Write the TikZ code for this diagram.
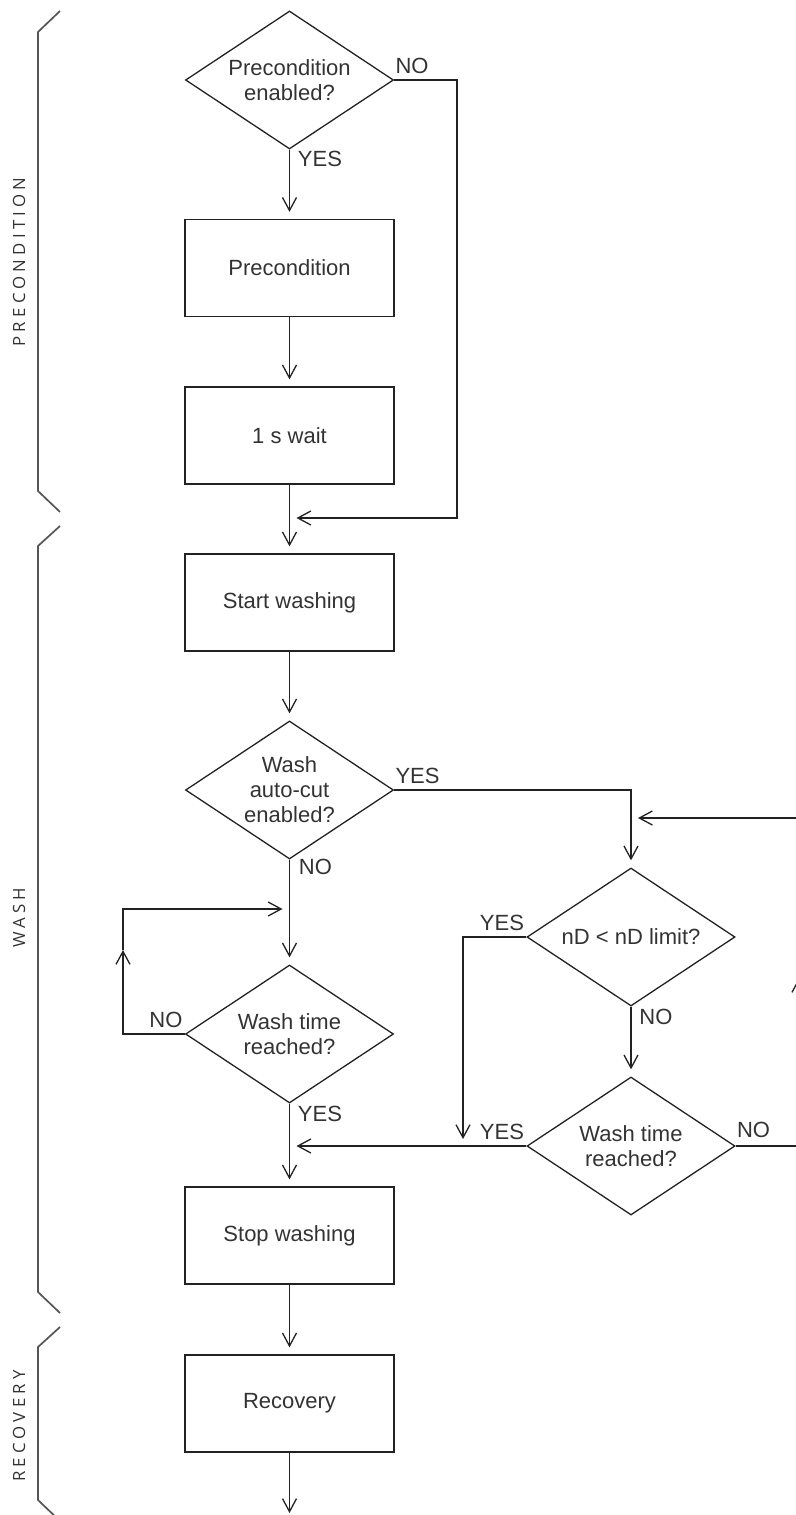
\documentclass[tikz,border=0pt]{standalone}
\usepackage{fontspec}
\setmainfont{Liberation Sans}
\newfontfamily\sidefont{Open Sans}[LetterSpace=25]
\usetikzlibrary{arrows.meta,shapes.geometric,positioning}

\definecolor{linegray}{HTML}{222222}
\definecolor{textgray}{HTML}{333333}
\definecolor{bracegray}{HTML}{555555}

\tikzset{
  stepbox/.style={draw=linegray,line width=.65pt,rectangle,minimum width=104.5pt,
    minimum height=48.5pt,inner sep=0pt,text=textgray,font=\fontsize{11}{12.5}\selectfont},
  question/.style={draw=linegray,line width=.65pt,diamond,shape aspect=1.5,
    minimum width=104pt,minimum height=69pt,inner sep=0pt,align=center,
    text=textgray,font=\fontsize{11}{12.5}\selectfont},
  flow/.style={draw=linegray,line width=.65pt,-{Straight Barb[length=6.5pt,width=7pt]},
    shorten >=3.5pt},
  answer/.style={inner sep=0pt,text=textgray,font=\fontsize{11}{12.5}\selectfont},
  brace/.style={draw=bracegray,line width=.85pt},
  phase/.style={rotate=90,text=textgray,font=\sidefont\fontsize{8.4}{10}\selectfont}
}

\begin{document}
\begin{tikzpicture}[x=.5pt,y=-.5pt]
\useasboundingbox (0,0) rectangle (796,1515);
\clip (0,0) rectangle (796,1515);

% Main column.
\node[question] (qpre)  at (289.5,80)     {Precondition\\enabled?};
\node[stepbox]  (pre)   at (289.5,268)    {Precondition};
\node[stepbox]  (wait)  at (289.5,435.5)  {1 s wait};
\node[stepbox]  (start) at (289.5,602.5)  {Start washing};
\node[question] (qcut)  at (289.5,790)    {Wash\\auto-cut\\enabled?};
\node[question] (qtime) at (289.5,1034)   {Wash time\\reached?};
\node[stepbox]  (stop)  at (289.5,1235.5) {Stop washing};
\node[stepbox]  (rec)   at (289.5,1403.5) {Recovery};

% Auto-cut column.
\node[question] (qnd)    at (631,937)  {nD < nD limit?};
\node[question] (qtimeB) at (631,1146) {Wash time\\reached?};

% Joins and corners of the connectors.
\coordinate (joinA) at (289.5,518);
\coordinate (joinB) at (289.5,909);
\coordinate (joinC) at (289.5,1146);
\coordinate (joinD) at (631,818);
\coordinate (skipR) at (457,518);
\coordinate (loopL) at (123,950);
\coordinate (ndYes) at (463,1146);
\coordinate (backR) at (799,978);
\coordinate (out)   at (289.5,1513);

\draw[flow] (qpre) -- (pre);
\draw[flow] (pre) -- (wait);
\draw[flow] (wait) -- (start);
\draw[flow] (qpre.east) -| (skipR) -- (joinA);
\draw[flow] (start) -- (qcut);
\draw[flow] (qcut) -- (qtime);
\draw[flow,shorten >=0pt] (qtime.west) -| (loopL);
\draw[flow] (loopL) |- (joinB);
\draw[flow] (qtime) -- (stop);
\draw[flow] (stop) -- (rec);
\draw[flow,shorten >=0pt] (rec) -- (out);

\draw[flow] (qcut.east) -| (qnd.north);
\draw[flow] (qnd.west) -| (ndYes);
\draw[flow] (qnd) -- (qtimeB);
\draw[flow] (qtimeB.west) -- (joinC);
\draw[flow,shorten >=0pt] (qtimeB.east) -| (backR);
\draw[flow] (backR) |- (joinD);

% Answers on the branches.
\node[answer,anchor=base west,xshift=.5pt,yshift=3.5pt]  (noPre)   at (qpre.east)    {NO};
\node[answer,anchor=north west,xshift=4pt,yshift=-.5pt]  (yesPre)  at (qpre.south)   {YES};
\node[answer,anchor=base west,xshift=.5pt,yshift=3.5pt]  (yesCut)  at (qcut.east)    {YES};
\node[answer,anchor=north west,xshift=4.5pt,yshift=.5pt] (noCut)   at (qcut.south)   {NO};
\node[answer,anchor=base east,xshift=-1pt,yshift=3.5pt]  (noTime)  at (qtime.west)   {NO};
\node[answer,anchor=north west,xshift=4pt,yshift=-1pt]   (yesTime) at (qtime.south)  {YES};
\node[answer,anchor=base east,xshift=-1pt,yshift=3.5pt]  (yesNd)   at (qnd.west)     {YES};
\node[answer,anchor=north west,xshift=4pt,yshift=-1pt]   (noNd)    at (qnd.south)    {NO};
\node[answer,anchor=base east,xshift=-1pt,yshift=3.5pt]  (yesTimeB) at (qtimeB.west) {YES};
\node[answer,anchor=base west,xshift=.5pt,yshift=4.5pt]  (noTimeB) at (qtimeB.east)  {NO};

% Phase braces.
\draw[brace] (60,11) -- (38,32) -- (38,491) -- (60,512);
\draw[brace] (60,526) -- (38,546) -- (38,1292) -- (60,1313);
\draw[brace] (60,1327) -- (38,1347) -- (38,1500) -- (60,1521);

\node[phase] (phPre)  at (19,262)  {PRECONDITION};
\node[phase] (phWash) at (19,918)  {WASH};
\node[phase] (phRec)  at (19,1426) {RECOVERY};

\end{tikzpicture}
\end{document}
